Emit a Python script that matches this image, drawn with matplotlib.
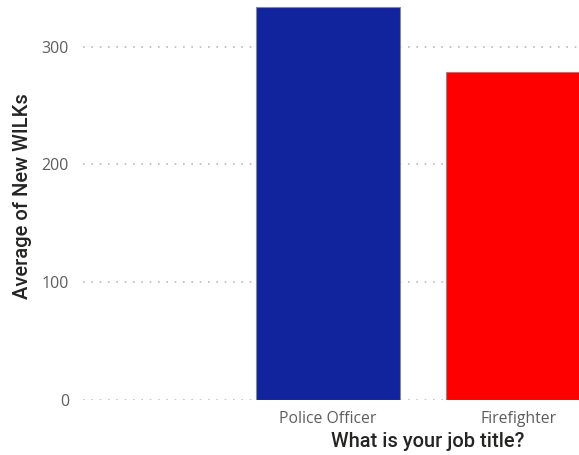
import matplotlib
matplotlib.use("Agg")
import matplotlib.pyplot as plt

categories = ["Police Officer", "Firefighter"]
values = [333.5, 278.5]
colors = ["#12239E", "#FF0000"]
yticks = [0, 100, 200, 300]

W, H = 579, 455
fig = plt.figure(figsize=(W / 100, H / 100), dpi=100)
left, right, bottom, top = 83, 579, 399.5, 4
ax = fig.add_axes([left / W, 1 - bottom / H, (right - left) / W, (bottom - top) / H])

x = list(range(len(categories)))
ax.bar(x, values, width=0.757, color=colors, edgecolor="#8a8a8a", linewidth=0.8, zorder=3)

ax.set_xlim(-1.284, 1.318)
ax.set_ylim(0, 336.3)
ax.set_yticks(yticks)
ax.set_yticklabels([str(t) for t in yticks])
ax.set_xticks(x)
ax.set_xticklabels(categories)

ax.grid(axis="y", linestyle=(0, (1, 4)), color="#bbbbbb", linewidth=1.2, zorder=0)
for s in ax.spines.values():
    s.set_visible(False)
ax.tick_params(axis="both", length=0, labelcolor="#605E5C")
ax.tick_params(axis="y", pad=10, labelsize=11.5)
ax.tick_params(axis="x", pad=8, labelsize=11.3)
for lbl in ax.get_xticklabels() + ax.get_yticklabels():
    lbl.set_fontfamily("Open Sans")

ax.set_ylabel("Average of New WILKs", fontsize=14.5, color="#252423", family="Roboto", fontweight="medium")
ax.yaxis.set_label_coords(-0.103, 0.515)
ax.set_xlabel("What is your job title?", fontsize=14.4, color="#252423", family="Roboto", fontweight="medium")
ax.xaxis.set_label_coords(0.694, -0.083)

fig.savefig("out.png", dpi=100)
